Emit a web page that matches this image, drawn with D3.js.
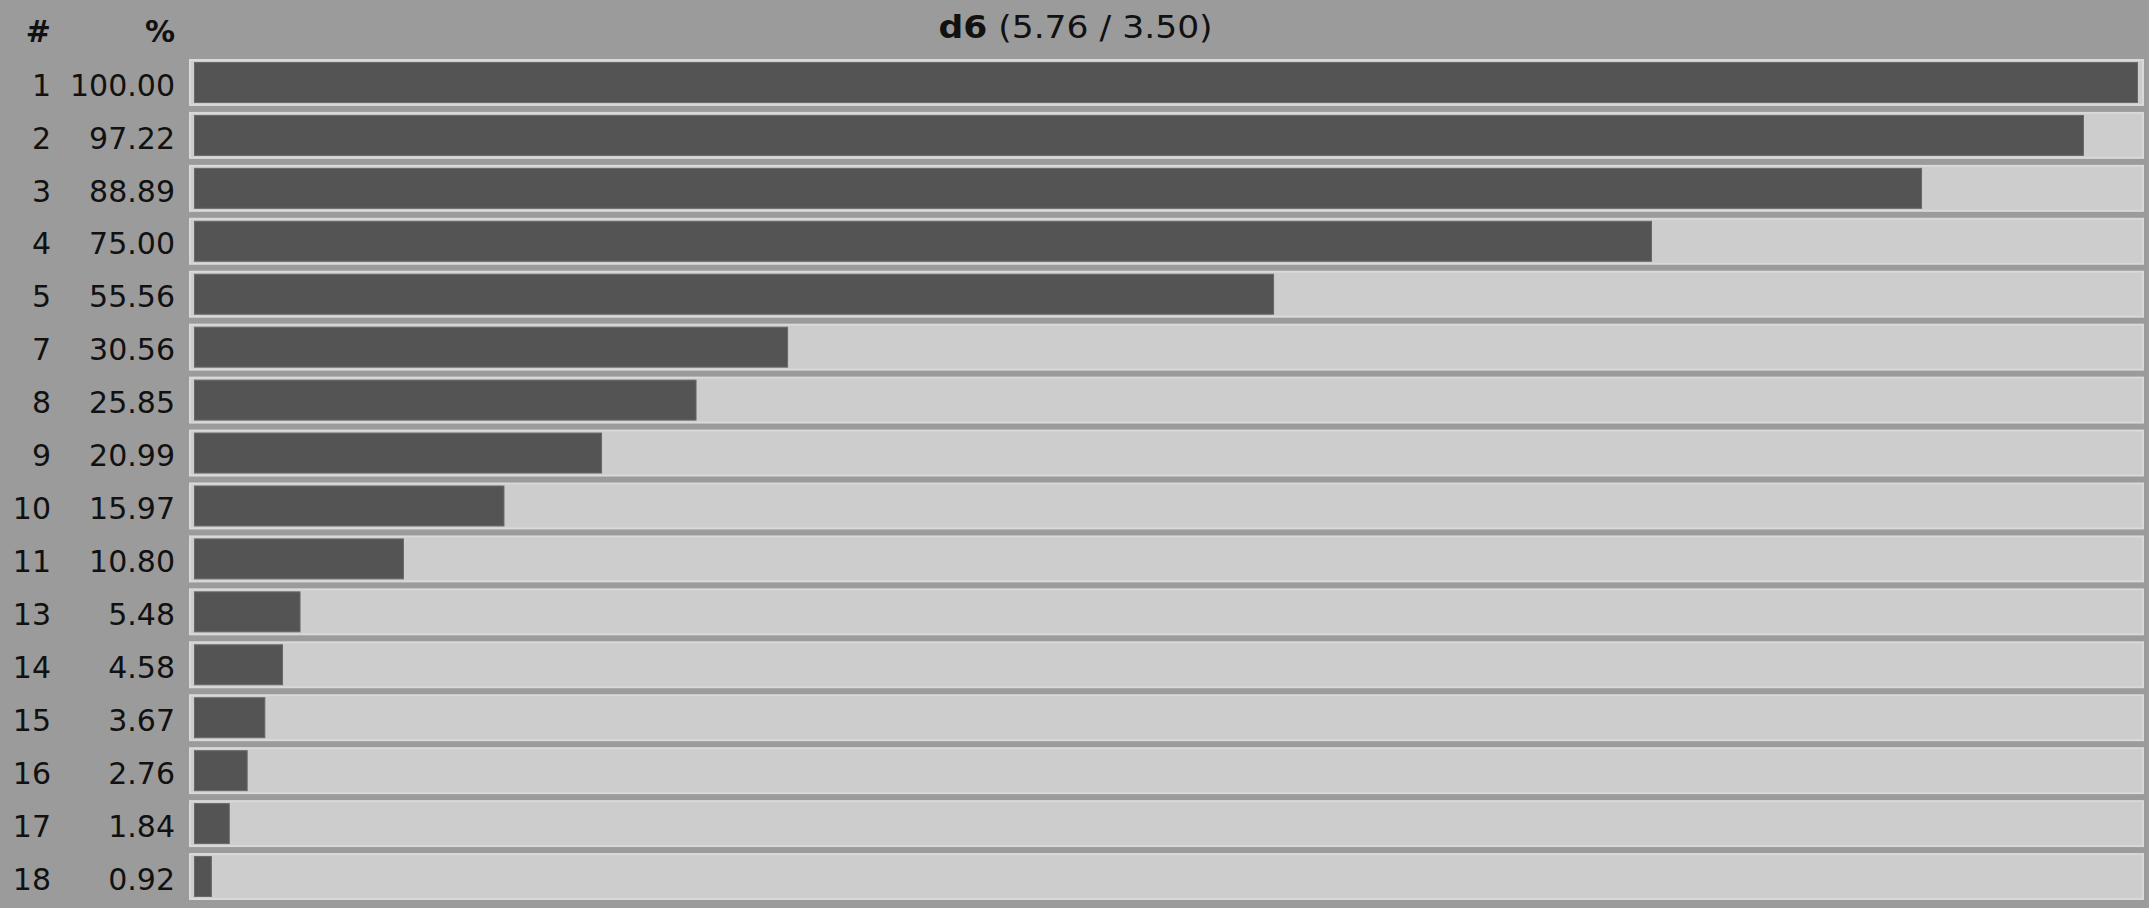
<!DOCTYPE html>
<html>
<head>
<meta charset="utf-8">
<script src="https://cdn.jsdelivr.net/npm/d3@7"></script>
<style>
  html, body { margin: 0; padding: 0; background: #9b9b9b; overflow: hidden; }
  svg { display: block; }
  text { font-family: "DejaVu Sans", Verdana, sans-serif; fill: #111; }
</style>
</head>
<body>
<svg id="chart" width="2149" height="908"></svg>
<script>
const titleBold = "d6";
const titleRest = " (5.76 / 3.50)";
const headerRank = "#";
const headerPct = "%";
const ranks = ["1","2","3","4","5","7","8","9","10","11","13","14","15","16","17","18"];
const values = [100.00, 97.22, 88.89, 75.00, 55.56, 30.56, 25.85, 20.99, 15.97, 10.80, 5.48, 4.58, 3.67, 2.76, 1.84, 0.92];

const W = 2149, H = 908;
const svg = d3.select("#chart");

const trackX0 = 189, trackX1 = 2144;
const y = d3.scaleBand().domain(ranks).range([59, 900]).paddingInner(0.113).paddingOuter(0);
const x = d3.scaleLinear().domain([0, 100]).range([194, 2138]);

// background
svg.append("rect").attr("x", 0).attr("y", 0).attr("width", W).attr("height", H).attr("fill", "#9b9b9b");

// title
const t = svg.append("text")
  .attr("transform", `translate(${W / 2 + 1},38) scale(1.08,1)`)
  .attr("text-anchor", "middle")
  .style("font-size", "32px");
t.append("tspan").attr("font-weight", "bold").text(titleBold);
t.append("tspan").text(titleRest);

// headers
svg.append("text").attr("x", 51).attr("y", 42).attr("text-anchor", "end")
  .attr("font-weight", "bold").style("font-size", "30px").text(headerRank);
svg.append("text").attr("x", 175).attr("y", 42).attr("text-anchor", "end")
  .attr("font-weight", "bold").style("font-size", "30px").text(headerPct);

const rows = svg.append("g").selectAll("g").data(ranks).join("g");

// track
rows.append("rect")
  .attr("x", trackX0 + 1)
  .attr("y", d => y(d) + 1)
  .attr("width", trackX1 - trackX0 - 2)
  .attr("height", y.bandwidth() - 2)
  .attr("fill", "#cdcdcd")
  .attr("stroke", "#d9d9d9")
  .attr("stroke-width", 2);

// bar
rows.append("rect")
  .attr("x", x(0) + 0.5)
  .attr("y", d => y(d) + 3.5)
  .attr("width", (d, i) => Math.max(0, x(values[i]) - x(0) - 1))
  .attr("height", y.bandwidth() - 7)
  .attr("fill", "#545454")
  .attr("stroke", "#686868")
  .attr("stroke-width", 1);

// rank labels
rows.append("text")
  .attr("x", 51)
  .attr("y", d => y(d) + y.bandwidth() / 2)
  .attr("dy", "0.44em")
  .attr("text-anchor", "end")
  .style("font-size", "30px")
  .text(d => d);

// percent labels
rows.append("text")
  .attr("x", 175)
  .attr("y", d => y(d) + y.bandwidth() / 2)
  .attr("dy", "0.44em")
  .attr("text-anchor", "end")
  .style("font-size", "30px")
  .text((d, i) => values[i].toFixed(2));
</script>
</body>
</html>
